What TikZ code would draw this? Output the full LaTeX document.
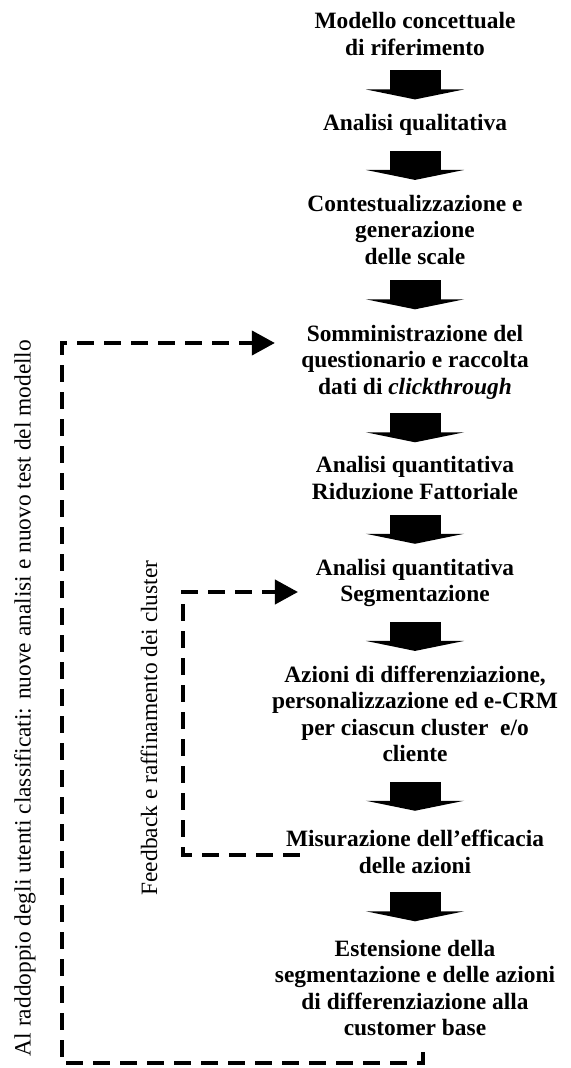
\documentclass[tikz,border=0pt]{standalone}
\usepackage{fontspec}
\setmainfont{Liberation Serif}
\usepackage{tikz}
\usetikzlibrary{arrows.meta, calc}

\begin{document}
\begin{tikzpicture}[
    x=0.5pt, y=0.5pt,
    every node/.style={font=\fontsize{11.7}{13.25}\selectfont},
    stage/.style={font=\fontsize{11.7}{13.25}\selectfont\bfseries, align=center, inner sep=1pt},
    flowarrow/.style={line width=25.5pt, -{Triangle[length=5pt, width=49pt]}},
    feedback/.style={line width=2pt, dash pattern=on 8.5pt off 5pt, -{Triangle[length=11.5pt, width=12pt]}},
    looplabel/.style={rotate=90, inner sep=0pt},
]
    \useasboundingbox (0,0) rectangle (571,-1068);

    % Stages of the process
    \node[stage] (modello) at (415,-34) {Modello concettuale\\di riferimento};
    \node[stage] (qualit) at (415,-125) {Analisi qualitativa};
    \node[stage] (contest) at (415,-230) {Contestualizzazione e\\generazione\\delle scale};
    \node[stage] (sommin) at (415,-362) {Somministrazione del\\questionario e raccolta\\dati di \textit{clickthrough}};
    \node[stage] (quant1) at (415,-478) {Analisi quantitativa\\Riduzione Fattoriale};
    \node[stage] (quant2) at (415,-583) {Analisi quantitativa\\Segmentazione};
    \node[stage] (azioni) at (415,-714) {Azioni di differenziazione,\\personalizzazione ed e-CRM\\per ciascun cluster~~e/o\\cliente};
    \node[stage] (misur) at (415,-852) {Misurazione dell'efficacia\\delle azioni};
    \node[stage] (est) at (415,-988) {Estensione della\\segmentazione e delle azioni\\di differenziazione alla\\customer base};

    % Block arrows
    \foreach \a/\b in {modello/qualit, qualit/contest, contest/sommin, sommin/quant1, quant1/quant2, quant2/azioni, azioni/misur, misur/est}
        \draw[flowarrow] ($(\a.south)!0.5!(\b.north)+(0,14.5)$) -- ($(\a.south)!0.5!(\b.north)+(0,-14.5)$);

    % Feedback loops
    \coordinate (outercorner) at (62,-1063);
    \coordinate (innercorner) at (183,-855);
    \draw[feedback] ([xshift=4pt,yshift=-7pt]est.south) |- (outercorner) |- ([xshift=-12pt,yshift=9.5pt]sommin.west);
    \draw[feedback] ([xshift=8pt]innercorner -| misur.west) -- (innercorner) |- ([xshift=-7.75pt,yshift=-4.5pt]quant2.west);

    % Loop labels
    \node[looplabel] (outerlabel) at (25,-698) {Al raddoppio degli utenti classificati: nuove analisi e nuovo test del modello};
    \node[looplabel] (innerlabel) at (149,-728) {Feedback e raffinamento dei cluster};
\end{tikzpicture}
\end{document}
